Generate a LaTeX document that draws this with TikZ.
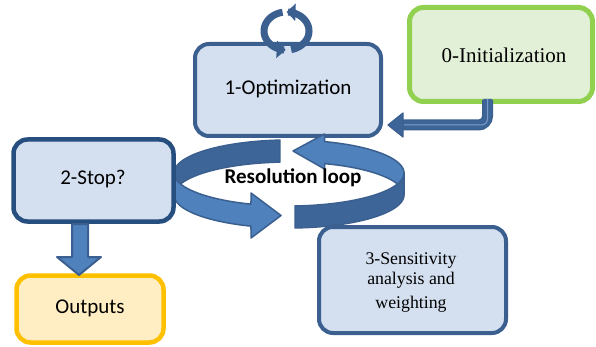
\documentclass[tikz,border=0pt]{standalone}
\usepackage{fontspec}
\setmainfont{Liberation Serif}
\newfontfamily\calfont{Carlito}
\usetikzlibrary{arrows.meta}
\definecolor{boxfill}{HTML}{D4DFEF}
\definecolor{boxline}{HTML}{3B6090}
\definecolor{stopline}{HTML}{264E7E}
\definecolor{initfill}{HTML}{E3F0D8}
\definecolor{initline}{HTML}{92D050}
\definecolor{outfill}{HTML}{FFEEC3}
\definecolor{outline}{HTML}{FFC000}
\definecolor{arlight}{HTML}{4F81BD}
\definecolor{ardark}{HTML}{3D6597}
\definecolor{arinner}{HTML}{7C9DCB}
\tikzset{
  rbox/.style={draw, line width=4.5pt, rounded corners=14pt},
  labc/.style={font=\calfont\fontsize{21}{25}\selectfont, text=black},
  labs/.style={font=\fontsize{20}{24}\selectfont, text=black},
  ribbon/.style={draw=boxline, line width=1.5pt, line join=round},
}
\begin{document}
\begin{tikzpicture}[x=1pt,y=-1pt]
\useasboundingbox (0,0) rectangle (596,347);
\def\CX{289}\def\CY{173}\def\RX{115}\def\RY{33}\def\HH{22}
% 1-Optimization box
\draw[rbox, draw=boxline, fill=boxfill, line width=4pt] (195,44) rectangle (381,136);
\node[labc] (opt) at (288,89) {1-Optimization};
% small circular arrows above
\draw[boxline, line width=7pt, -{Triangle[length=9pt,width=17pt]}]
  plot[variable=\t, domain=-78:90, samples=40] ({286.5+22.5*cos(\t)},{31-19*sin(\t)});
\draw[boxline, line width=7pt, -{Triangle[length=9pt,width=17pt]}]
  plot[variable=\t, domain=100:268, samples=40] ({286.5+22.5*cos(\t)},{31-19*sin(\t)});
% 0-Initialization box
\draw[rbox, draw=initline, fill=initfill, line width=5pt] (409.5,7.5) rectangle (592.5,101.5);
\node[labs, font=\fontsize{21}{25}\selectfont] (init) at (504,55) {0-Initialization};
% bent arrow init -> opt
\coordinate (ia) at (487.5,100);
\coordinate (ib) at (402,125);
\coordinate (ic) at (388,125);
\draw[boxline, line width=11pt, rounded corners=9pt] (ia) |- (ib);
\draw[ardark, line width=8.5pt, rounded corners=9pt] ([yshift=1pt]ia) |- ([xshift=-1pt]ib);
\draw[arinner, line width=1pt, rounded corners=6pt] ([yshift=1pt]ia) |- (ib);
\draw[boxline, fill=ardark, line width=1.2pt, line join=round] (403,113) -- (ic) -- (403,137) -- cycle;
% Resolution loop: back pieces
\path[ribbon, fill=ardark]
  plot[variable=\t, domain=94.5:180, samples=40] ({\CX+\RX*cos(\t)},{\CY-\RY*sin(\t)})
  -- plot[variable=\t, domain=180:94.5, samples=40] ({\CX+\RX*cos(\t)},{\CY-\RY*sin(\t)+\HH})
  -- cycle;
\path[ribbon, fill=arlight]
  plot[variable=\t, domain=0:72, samples=40] ({\CX+\RX*cos(\t)},{\CY-\RY*sin(\t)})
  -- (324.5,134) -- (293,151) -- (324.5,169)
  -- plot[variable=\t, domain=72:0, samples=40] ({\CX+\RX*cos(\t)},{\CY-\RY*sin(\t)+\HH})
  -- cycle;
% front pieces
\path[ribbon, fill=ardark]
  plot[variable=\t, domain=273:360, samples=40] ({\CX+\RX*cos(\t)},{\CY-\RY*sin(\t)})
  -- plot[variable=\t, domain=360:273, samples=40] ({\CX+\RX*cos(\t)},{\CY-\RY*sin(\t)+\HH})
  -- cycle;
\path[ribbon, fill=arlight]
  plot[variable=\t, domain=180:250.7, samples=40] ({\CX+\RX*cos(\t)},{\CY-\RY*sin(\t)})
  -- (251,193) -- (281,215.5) -- (251,238)
  -- plot[variable=\t, domain=250.7:180, samples=40] ({\CX+\RX*cos(\t)},{\CY-\RY*sin(\t)+\HH})
  -- cycle;
\node[labc, font=\calfont\bfseries\fontsize{21}{25}\selectfont] (loop) at (293,178) {Resolution loop};
% 2-Stop? box
\draw[rbox, draw=stopline, fill=boxfill] (13.5,139.5) rectangle (173.5,221.5);
\node[labc] (stop) at (93,179) {2-Stop?};
% Outputs box
\draw[rbox, draw=outline, fill=outfill] (16.5,275.5) rectangle (163.5,342.5);
\node[labc] (out) at (90,308) {Outputs};
% arrow stop -> outputs
\draw[boxline, fill=arlight, line width=2pt, line join=round]
  (72,224) -- (88,224) -- (88,257) -- (101,257) -- (79,275) -- (57,257) -- (72,257) -- cycle;
% 3-Sensitivity box
\draw[rbox, draw=boxline, fill=boxfill, line width=4pt] (319,227) rectangle (506,333);
\node[labs, font=\fontsize{17.8}{20}\selectfont, align=center] (sens) at (411,283)
  {3-Sensitivity\\analysis and\\[4pt]weighting};
\end{tikzpicture}
\end{document}
